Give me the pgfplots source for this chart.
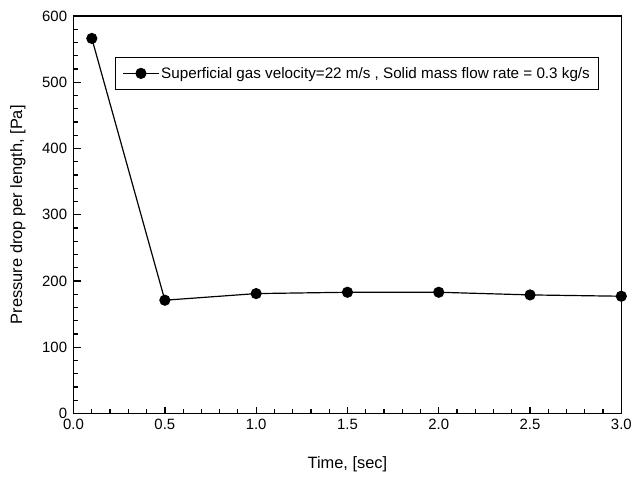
\documentclass[border=0pt]{standalone}
\usepackage{pgfplots}
\pgfplotsset{compat=1.18}
\usepackage{fontspec}
\setmainfont{Liberation Sans}
\begin{document}
\begin{tikzpicture}
\begin{axis}[
  name=ax,
  scale only axis,
  width=551pt, height=400pt,
  xmin=0, xmax=3, ymin=0, ymax=600,
  xtick={0,0.5,1,1.5,2,2.5,3}, ytick={0,100,200,300,400,500,600},
  minor x tick num=4, minor y tick num=4,
  xticklabel style={yshift=-2pt, /pgf/number format/.cd,fixed,fixed zerofill,precision=1},
  yticklabel style={xshift=-3pt},
  /pgf/number format/assume math mode=true,
  tick align=inside,
  xtick pos=bottom, ytick pos=left,
  major tick length=7pt, minor tick length=4.5pt,
  axis line style={line width=1.3pt},
  major tick style={line width=1.3pt, black},
  minor tick style={line width=1.2pt, black},
  xlabel={Time, [sec]},
  ylabel={Pressure drop per length, [Pa]},
  xlabel style={at={(axis description cs:0.5,-0.1275)}, anchor=center},
  ylabel style={at={(axis description cs:-0.1016,0.5)}, anchor=center},
  tick label style={font=\fontsize{15pt}{17pt}\selectfont},
  label style={font=\fontsize{16.5pt}{19pt}\selectfont},
  legend style={at={(0.076,0.8975)}, anchor=north west, draw=black, line width=1.1pt,
    font=\fontsize{15.3pt}{18pt}\selectfont, inner xsep=7pt, inner ysep=8pt},
  legend cell align=left,
  legend image code/.code={\draw[#1, line width=1.2pt, mark repeat=2, mark phase=2]
    plot coordinates {(0cm,0cm) (0.625cm,0cm) (1.25cm,0cm)};},
  clip=false,
]
\addplot[black, line width=1.2pt, mark=*, mark size=5pt, mark options={solid,fill=black}]
  coordinates {(0.1,566) (0.5,171) (1.0,181) (1.5,183) (2.0,183) (2.5,179) (3.0,177)};
\addlegendentry{Superficial gas velocity=22 m/s , Solid mass flow rate = 0.3 kg/s}
\end{axis}
\path (ax.south west) ++(-74pt,-63pt) (ax.north east) ++(10pt,16pt);
\end{tikzpicture}
\end{document}
